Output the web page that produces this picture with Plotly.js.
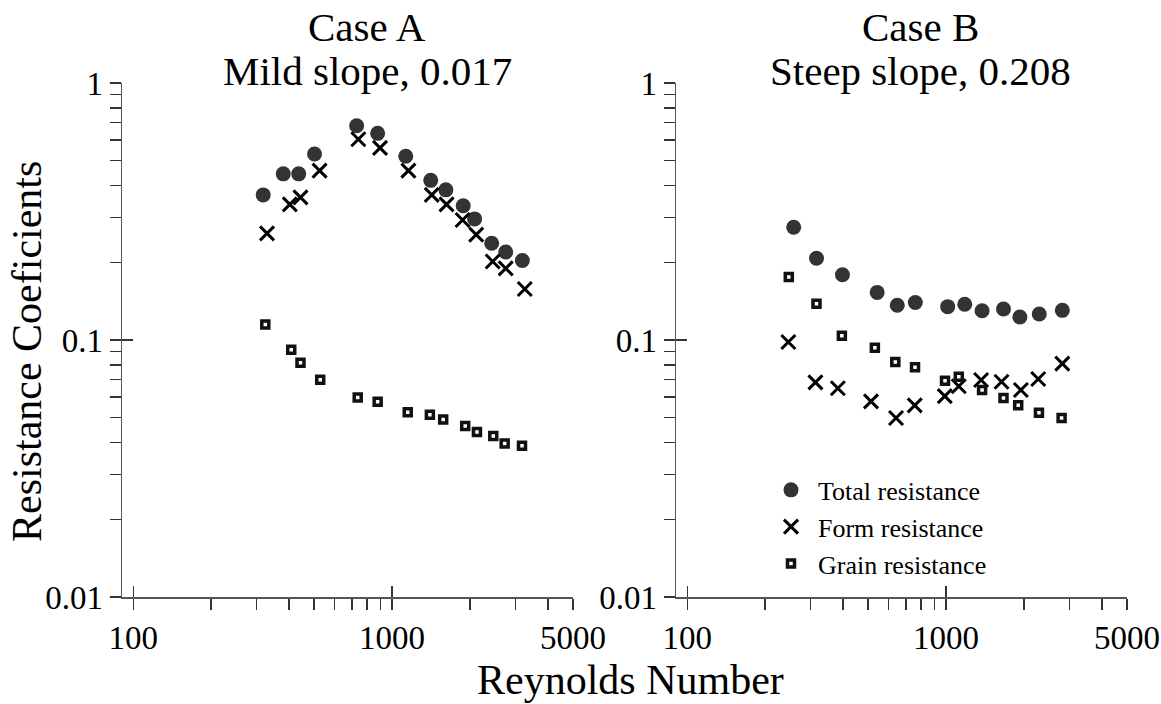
<!DOCTYPE html>
<html>
<head>
<meta charset="utf-8">
<script src="https://cdn.plot.ly/plotly-3.0.1.min.js"></script>
<style>html,body{margin:0;padding:0;background:#fff;}#chart{width:1161px;height:704px;}</style>
</head>
<body>
<div id="chart"></div>
<script>
// ---- Case A (mild slope 0.017) ----
const aTotalRe = [318, 380, 436, 502, 730, 880, 1130, 1411, 1614, 1883, 2084, 2426, 2748, 3187];
const aTotal   = [0.367, 0.443, 0.443, 0.529, 0.682, 0.637, 0.519, 0.418, 0.384, 0.333, 0.296, 0.238, 0.220, 0.204];
const aFormRe  = [329, 403, 443, 525, 741, 899, 1157, 1424, 1624, 1873, 2114, 2448, 2748, 3256];
const aForm    = [0.260, 0.337, 0.359, 0.456, 0.604, 0.559, 0.456, 0.367, 0.337, 0.293, 0.257, 0.202, 0.190, 0.158];
const aGrainRe = [324, 408, 443, 528, 737, 880, 1150, 1400, 1576, 1917, 2128, 2461, 2723, 3177];
const aGrain   = [0.115, 0.0917, 0.0816, 0.0700, 0.0598, 0.0575, 0.0523, 0.0512, 0.0491, 0.0463, 0.0439, 0.0423, 0.0396, 0.0388];

// ---- Case B (steep slope 0.208) ----
const bTotalRe = [258, 316, 398, 542, 648, 761, 1015, 1181, 1378, 1667, 1929, 2291, 2813];
const bTotal   = [0.2745, 0.208, 0.1795, 0.1532, 0.1365, 0.140, 0.1348, 0.1377, 0.130, 0.132, 0.1229, 0.1262, 0.1304];
const bFormRe  = [246, 313, 382, 513, 641, 757, 989, 1120, 1366, 1638, 1946, 2271, 2813];
const bForm    = [0.0982, 0.0684, 0.0649, 0.0577, 0.0497, 0.0557, 0.0605, 0.0661, 0.0699, 0.0688, 0.0639, 0.0705, 0.0809];
const bGrainRe = [247, 316, 396, 531, 637, 759, 991, 1120, 1378, 1667, 1900, 2285, 2795];
const bGrain   = [0.1759, 0.1384, 0.1039, 0.0933, 0.0821, 0.0783, 0.0694, 0.072, 0.0639, 0.0595, 0.0557, 0.0521, 0.0497];

// ---- ticks ----
const xTickVals = [100, 200, 300, 400, 500, 600, 700, 800, 900, 1000, 2000, 3000, 4000, 5000];
const xTickText = ['100', '', '', '', '', '', '', '', '', '1000', '', '', '', '5000'];
const xMajor = [100, 1000];
const yTickVals = [0.01, 0.02, 0.03, 0.04, 0.05, 0.06, 0.07, 0.08, 0.09, 0.1, 0.2, 0.3, 0.4, 0.5, 0.6, 0.7, 0.8, 0.9, 1];
const yTickText = ['0.01', '', '', '', '', '', '', '', '', '0.1', '', '', '', '', '', '', '', '', '1'];
const yMajor = [0.01, 0.1, 1];

const seriesNames = ['Total resistance', 'Form resistance', 'Grain resistance'];
const titleA = ['Case A', 'Mild slope, 0.017'];
const titleB = ['Case B', 'Steep slope, 0.208'];
const xTitle = 'Reynolds Number';
const yTitle = 'Resistance Coeficients';

const FONT = 'Liberation Serif, Times New Roman, serif';
const totalMarker = {symbol: 'circle', size: 15, color: '#333333', line: {width: 0}};
const formMarker  = {symbol: 'x-thin-open', size: 14, color: '#000', line: {width: 3, color: '#000'}};
const grainMarker = {symbol: 'square-open', size: 7, color: '#111', line: {width: 3.5, color: '#111'}};

function tr(x, y, name, marker, xa, ya, show) {
  return {type: 'scatter', mode: 'markers', x: x, y: y, name: name, marker: marker,
          xaxis: xa, yaxis: ya, showlegend: show, legendgroup: name, hoverinfo: 'x+y'};
}

const data = [
  tr(aTotalRe, aTotal, seriesNames[0], totalMarker, 'x', 'y', false),
  tr(aFormRe, aForm, seriesNames[1], formMarker, 'x', 'y', false),
  tr(aGrainRe, aGrain, seriesNames[2], grainMarker, 'x', 'y', false),
  tr(bTotalRe, bTotal, seriesNames[0], totalMarker, 'x2', 'y2', true),
  tr(bFormRe, bForm, seriesNames[1], formMarker, 'x2', 'y2', true),
  tr(bGrainRe, bGrain, seriesNames[2], grainMarker, 'x2', 'y2', true),
  {type: 'scatter', x: [], y: [], xaxis: 'x3', yaxis: 'y3', showlegend: false},
  {type: 'scatter', x: [], y: [], xaxis: 'x4', yaxis: 'y4', showlegend: false}
];

const xRange = [1.957, 3.699];
const yRange = [-2, 0];
const domA = [122 / 1161, 573 / 1161];
const domB = [676 / 1161, 1127 / 1161];
const lineCol = '#555';
const tickCol = '#333';

function xAxis(dom, anchor) {
  return {type: 'log', domain: dom, anchor: anchor, range: xRange, tickmode: 'array',
          tickvals: xTickVals, ticktext: xTickText, ticks: 'outside', ticklen: 11, tickwidth: 1.2,
          tickcolor: tickCol, showline: true, linecolor: lineCol, linewidth: 1.5, showgrid: false,
          zeroline: false, tickfont: {family: FONT, size: 33, color: '#000'}};
}
function yAxis(anchor) {
  return {type: 'log', domain: [0, 1], anchor: anchor, range: yRange, tickmode: 'array',
          tickvals: yTickVals, ticktext: yTickText, ticks: 'outside', ticklen: 11, tickwidth: 1.2,
          tickcolor: tickCol, showline: true, linecolor: lineCol, linewidth: 1.5, showgrid: false,
          zeroline: false, tickfont: {family: FONT, size: 33, color: '#000'}};
}
function xInner(dom, over, anchor) {
  return {type: 'log', domain: dom, overlaying: over, anchor: anchor, range: xRange, tickmode: 'array',
          tickvals: xMajor, ticks: 'inside', ticklen: 11, tickwidth: 1.2, tickcolor: tickCol,
          showticklabels: false, showline: false, showgrid: false, zeroline: false};
}
function yInner(over, anchor) {
  return {type: 'log', domain: [0, 1], overlaying: over, anchor: anchor, range: yRange, tickmode: 'array',
          tickvals: yMajor, ticks: 'inside', ticklen: 11, tickwidth: 1.2, tickcolor: tickCol,
          showticklabels: false, showline: false, showgrid: false, zeroline: false};
}

function ann(text, x, y, size, extra) {
  return Object.assign({text: text, x: x, y: y, xref: 'paper', yref: 'paper', showarrow: false,
          xanchor: 'center', yanchor: 'middle', font: {family: FONT, size: size, color: '#000'}}, extra || {});
}
const cA = 367 / 1161, cB = 920 / 1161;

const layout = {
  width: 1161, height: 704,
  margin: {l: 0, r: 0, t: 83, b: 107},
  paper_bgcolor: '#fff', plot_bgcolor: 'rgba(0,0,0,0)',
  font: {family: FONT, color: '#000'},
  showlegend: true,
  legend: {x: 764 / 1161, xanchor: 'left', y: 0.254, yanchor: 'top', bgcolor: 'rgba(0,0,0,0)',
           font: {family: FONT, size: 26, color: '#000'}, itemsizing: 'trace', itemwidth: 44,
           tracegroupgap: 0},
  xaxis: xAxis(domA, 'y'), yaxis: yAxis('x'),
  xaxis2: xAxis(domB, 'y2'), yaxis2: yAxis('x2'),
  xaxis3: xInner(domA, 'x', 'y'), yaxis3: yInner('y', 'x'),
  xaxis4: xInner(domB, 'x2', 'y2'), yaxis4: yInner('y2', 'x2'),
  annotations: [
    ann(titleA[0], cA, (597 - 27) / 514, 41),
    ann(titleA[1], cA, (597 - 71) / 514, 41),
    ann(titleB[0], cB, (597 - 27) / 514, 41),
    ann(titleB[1], cB, (597 - 71) / 514, 41),
    ann(xTitle, 630.7 / 1161, (597 - 680) / 514, 42),
    ann(yTitle, 27 / 1161, (597 - 352) / 514, 42, {textangle: -90})
  ]
};

Plotly.newPlot('chart', data, layout, {staticPlot: true, displayModeBar: false});
</script>
</body>
</html>
